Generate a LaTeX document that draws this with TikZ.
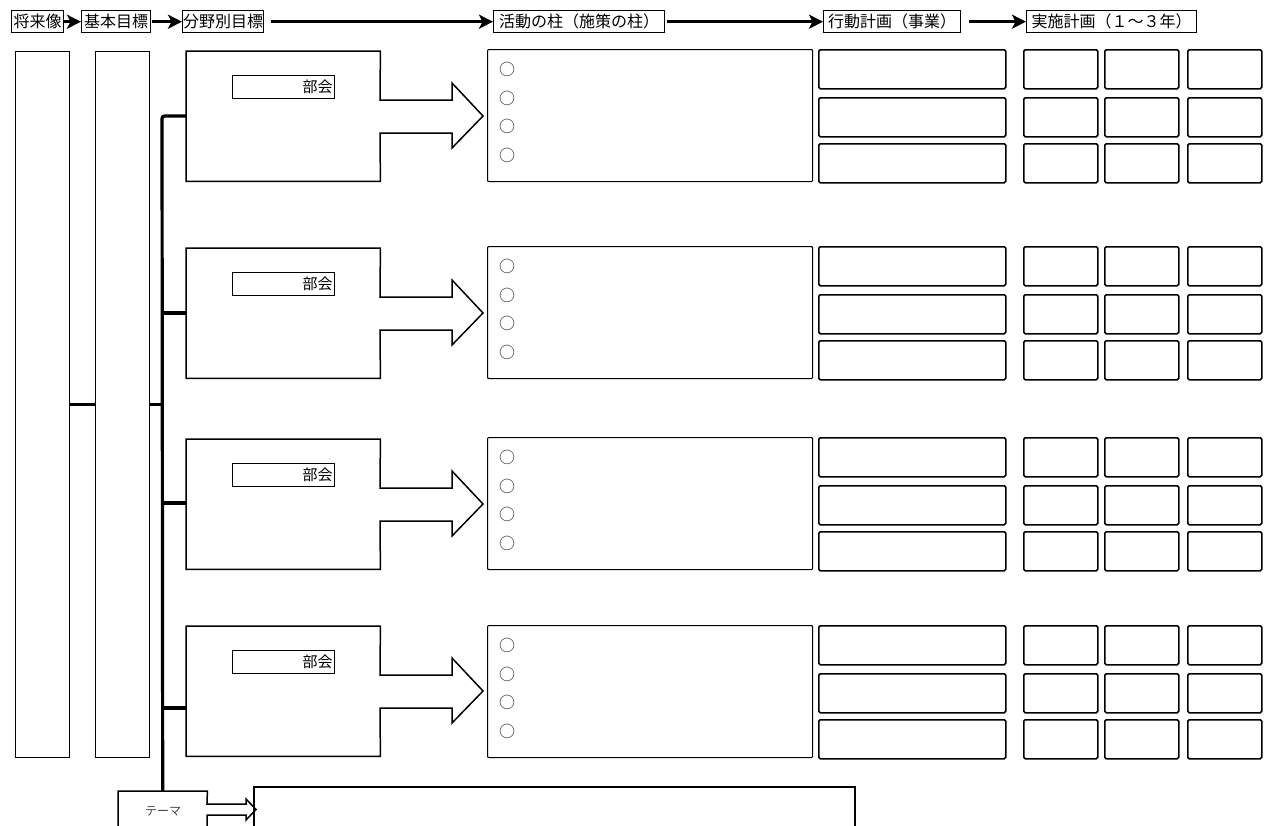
\documentclass[tikz,border=0pt]{standalone}
\usepackage{fontspec}
\newfontfamily\jp{Noto Sans CJK JP}
\usetikzlibrary{arrows.meta}
\begin{document}
\begin{tikzpicture}[x=1pt,y=-1pt,
  hdr/.style={draw,line width=1.4pt,inner sep=0pt,minimum height=22pt,anchor=north west,font=\jp\fontsize{16}{16}\selectfont},
  harrow/.style={line width=2.6pt,-{Stealth[length=14pt,width=14pt,inset=3.5pt]}},
  tallbox/.style={draw,line width=1.1pt,inner sep=0pt,anchor=north west,minimum width=54pt,minimum height=706pt},
  bus/.style={line width=3.2pt},
  shapeline/.style={line width=1.5pt,line join=miter},
  lbl/.style={draw,line width=1.2pt,anchor=north west,inner xsep=2pt,inner ysep=0pt,text width=98pt,align=right,minimum height=23pt,font=\jp\fontsize{15}{16}\selectfont},
  actbox/.style={draw,line width=1.1pt,inner sep=0pt,anchor=north west,minimum width=325pt,minimum height=132pt,rounded corners=1pt},
  plan/.style={draw,line width=1.5pt,inner sep=0pt,anchor=north west,minimum height=39pt,rounded corners=1.5pt},
  bullet/.style={font=\jp\fontsize{16}{16}\selectfont,inner sep=0pt,text=black!85}
]
\useasboundingbox (0,0) rectangle (1265,825);
\clip (0,0) rectangle (1265,825);

% header
\node[hdr,minimum width=52pt] (h1) at (11,10) {将来像};
\node[hdr,minimum width=69pt] (h2) at (81,10) {基本目標};
\node[hdr,minimum width=81pt] (h3) at (182,10) {分野別目標};
\node[hdr,minimum width=171pt] (h4) at (493,10) {活動の柱（施策の柱）};
\node[hdr,minimum width=137pt] (h5) at (823,10) {行動計画（事業）};
\node[hdr,minimum width=170pt] (h6) at (1026,10) {実施計画（１～３年）};
\draw[harrow] (h1.east) -- (h2.west);
\draw[harrow,shorten <=1pt] (h2.east) -- (h3.west);
\draw[harrow,shorten <=7pt] (h3.east) -- (h4.west);
\draw[harrow,shorten <=2pt] (h4.east) -- (h5.west);
\draw[harrow,shorten <=8pt] (h5.east) -- (h6.west);

% tall boxes
\node[tallbox] (v1) at (15,51) {};
\node[tallbox] (v2) at (95,51) {};
\coordinate (bus) at (162,404);
\draw[bus] (v1.east) -- (v2.west);
\draw[bus] (v2.east) -- (v2.east -| bus);

% groups
\foreach \i/\b/\a/\r in {1/51/49/116, 2/248/246/313, 3/439/437/503, 4/626/625/708}{
  \node[inner sep=0pt,anchor=north west,minimum width=194pt,minimum height=130pt] (bk\i) at (186,\b) {};
  \draw[shapeline] (bk\i.north west) -- (bk\i.north east) -- (380,{\b+49}) -- (452,{\b+49}) -- (452,{\b+32})
     -- (483,{\b+65}) -- (452,{\b+97}) -- (452,{\b+82}) -- (380,{\b+82}) -- (bk\i.south east) -- (bk\i.south west) -- cycle;
  \node[lbl] (lb\i) at (232,{\b+24}) {部会};
  \coordinate (j\i) at (162,\r);
  \ifnum\i>1 \draw[bus] (j\i) -- (j\i -| bk\i.west); \fi
  \node[actbox] (act\i) at (487,\a) {};
  \foreach \k/\o in {1/20.5,2/49,3/77.5,4/106}{
    \node[bullet] (c\i\k) at (507,{\a+\o}) {○};
  }
  \foreach \k/\o in {1/0,2/48,3/94}{
    \node[plan,minimum width=187pt] (p\i\k) at (818,{\a+\o}) {};
    \node[plan,minimum width=74pt] (q\i\k a) at (1023,{\a+\o}) {};
    \node[plan,minimum width=74pt] (q\i\k b) at (1104,{\a+\o}) {};
    \node[plan,minimum width=74pt] (q\i\k c) at (1187,{\a+\o}) {};
  }
}

% theme
\node[inner sep=0pt,anchor=north west,minimum width=89pt,minimum height=40pt] (tema) at (118,791) {};
\node[font=\jp\fontsize{12}{12}\selectfont,text=black!75,inner sep=0pt] (tematext) at (163,811) {テーマ};
\draw[shapeline] (118,830) -- (tema.north west) -- (tema.north east) -- (207,804) -- (246,804) -- (246,799)
   -- (256,809.5) -- (246,820) -- (246,815) -- (207,815) -- (207,830);
\draw[line width=1.1pt] (254,830) -- (254,787) -- (855,787) -- (855,830);
\coordinate (busend) at (tema.north);
\draw[bus,rounded corners=2.5pt] (j1 -| bk1.west) -- (j1) -- (busend);
\end{tikzpicture}
\end{document}
